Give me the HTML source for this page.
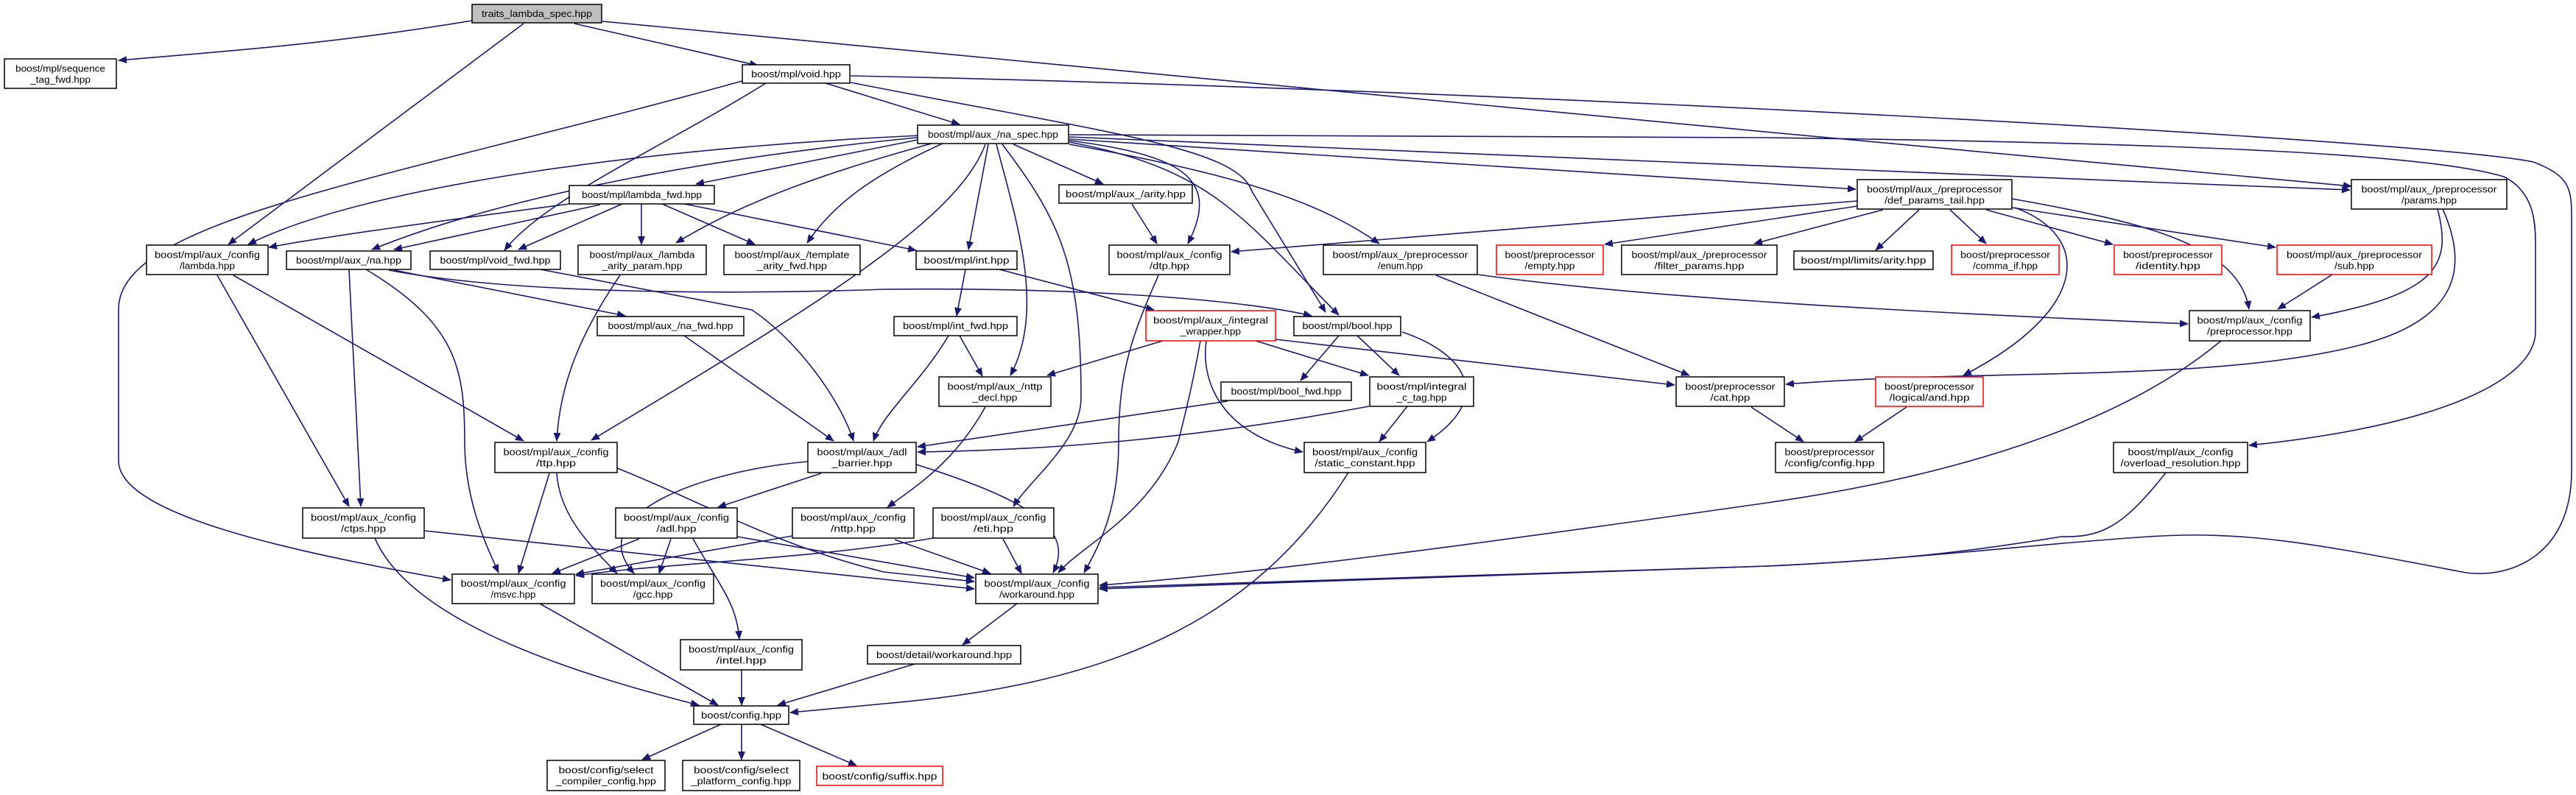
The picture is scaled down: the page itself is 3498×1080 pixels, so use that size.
<!DOCTYPE html>
<html><head><meta charset="utf-8"><style>
html,body{margin:0;padding:0;background:#fff;}
svg{display:block;}
text{font-family:"Liberation Sans",sans-serif;font-size:13px;fill:#000;text-anchor:middle;}
.n{fill:#fff;stroke:#000;stroke-width:1.5;}
.r{fill:#fff;stroke:#ff0000;stroke-width:1.5;}
.e{fill:none;stroke:#191970;stroke-width:1.6;marker-end:url(#a);}
</style></head><body>
<svg width="3498" height="1080" viewBox="0 0 3498 1080" xmlns="http://www.w3.org/2000/svg">
<defs><marker id="a" markerUnits="userSpaceOnUse" markerWidth="12" markerHeight="10" refX="11" refY="5" orient="auto"><path d="M0,0 L12,5 L0,10 z" fill="#191970"/></marker></defs>
<g>
<path class="e" d="M641,28 C450,60 300,70 161,82"/>
<path class="e" d="M711,32 L310,332"/>
<path class="e" d="M780,32 L1029,89"/>
<path class="e" d="M818,29 C1500,95 2400,180 3193,253"/>
<path class="e" d="M1121,113 L1303,169"/>
<path class="e" d="M1040,113 C900,200 740,270 685,340"/>
<path class="e" d="M1008,110 C500,250 161,300 161,420 L161,626 C161,700 400,750 612,788"/>
<path class="e" d="M1155,112 C1500,180 1680,200 1700,260 L1800,424"/>
<path class="e" d="M1155,103 C2000,120 3300,190 3440,220 C3492,240 3492,258 3492,300 L3492,640 C3492,760 3400,790 3338,776 C3150,740 3050,720 2918,729 C2750,740 2600,760 2400,769 L1493,798"/>
<path class="e" d="M1246,190 L945,250"/>
<path class="e" d="M1250,184 C900,200 500,250 337,332"/>
<path class="e" d="M1255,186 C1000,210 700,260 505,339"/>
<path class="e" d="M1265,195 C1100,240 1000,280 918,330"/>
<path class="e" d="M1280,195 C1180,240 1130,280 1096,330"/>
<path class="e" d="M1338,196 C1300,300 1100,420 803,598"/>
<path class="e" d="M1342,196 L1315,339"/>
<path class="e" d="M1353,196 C1380,300 1420,420 1372,510"/>
<path class="e" d="M1361,196 C1440,300 1468,360 1468,540 C1468,600 1400,650 1376,688"/>
<path class="e" d="M1376,196 L1498,250"/>
<path class="e" d="M1452,191 C1600,210 1660,240 1613,331"/>
<path class="e" d="M1452,193 C1650,230 1690,300 1818,428"/>
<path class="e" d="M1452,196 C1700,240 1800,280 1873,331"/>
<path class="e" d="M1452,189 L2520,257"/>
<path class="e" d="M1452,186 C2000,210 2600,235 3191,258"/>
<path class="e" d="M1452,183 L2400,187 C3000,195 3300,210 3400,240 C3440,260 3443,300 3443,330 L3443,450 C3443,520 3300,580 3054,605"/>
<path class="e" d="M773,277 C600,300 450,320 365,336"/>
<path class="e" d="M815,278 L535,339"/>
<path class="e" d="M845,277 L704,339"/>
<path class="e" d="M871,277 L871,332"/>
<path class="e" d="M899,277 L1025,332"/>
<path class="e" d="M929,277 L1244,340"/>
<path class="e" d="M317,374 L711,599"/>
<path class="e" d="M295,374 L474,688"/>
<path class="e" d="M474,367 L490,688"/>
<path class="e" d="M497,366 C620,440 631,500 631,600 C631,680 660,740 677,778"/>
<path class="e" d="M535,367 L849,429"/>
<path class="e" d="M528,367 C700,400 1000,400 1200,393 C1500,390 1700,410 1781,429"/>
<path class="e" d="M734,366 L1021,421 C1080,460 1140,540 1159,599"/>
<path class="e" d="M929,456 L1132,599"/>
<path class="e" d="M842,374 C790,450 760,520 756,599"/>
<path class="e" d="M1311,366 L1299,429"/>
<path class="e" d="M1357,366 L1567,421"/>
<path class="e" d="M1303,456 L1334,511"/>
<path class="e" d="M1288,456 C1250,520 1200,560 1186,599"/>
<path class="e" d="M1537,277 L1571,331"/>
<path class="e" d="M1573,374 C1540,450 1519,500 1519,600 C1519,680 1500,730 1472,778"/>
<path class="e" d="M1950,374 L2294,510"/>
<path class="e" d="M2007,373 C2200,400 2500,420 2971,440"/>
<path class="e" d="M2522,273 L1672,342"/>
<path class="e" d="M2522,280 L2179,332"/>
<path class="e" d="M2557,285 L2382,331"/>
<path class="e" d="M2606,285 L2547,340"/>
<path class="e" d="M2648,285 L2697,331"/>
<path class="e" d="M2697,285 L2869,332"/>
<path class="e" d="M2732,282 L3090,336"/>
<path class="e" d="M2732,270 C2900,300 3040,330 3054,420"/>
<path class="e" d="M2736,282 C2840,320 2840,420 2666,510"/>
<path class="e" d="M3310,284 C3330,360 3310,400 3139,431"/>
<path class="e" d="M3317,284 C3360,380 3320,440 3200,470 C3000,520 2700,500 2425,522"/>
<path class="e" d="M3167,373 L3093,420"/>
<path class="e" d="M3016,463 C2900,560 2700,640 2400,683 C2000,740 1700,780 1493,795"/>
<path class="e" d="M2941,642 C2880,720 2850,730 2799,729 C2700,745 2600,760 2400,769 L1493,800"/>
<path class="e" d="M1579,463 L1422,510"/>
<path class="e" d="M1705,463 L1858,510"/>
<path class="e" d="M1732,461 L2274,523"/>
<path class="e" d="M1638,463 C1630,520 1660,590 1769,614"/>
<path class="e" d="M1630,463 C1620,520 1610,560 1600,600 C1560,700 1470,740 1437,778"/>
<path class="e" d="M1818,456 L1766,517"/>
<path class="e" d="M1843,456 L1900,510"/>
<path class="e" d="M1904,451 C1990,480 2030,540 1938,600"/>
<path class="e" d="M1667,545 L1246,607"/>
<path class="e" d="M1859,552 C1600,600 1400,612 1246,614"/>
<path class="e" d="M1911,552 L1873,600"/>
<path class="e" d="M1338,553 C1300,620 1260,650 1205,689"/>
<path class="e" d="M2378,553 L2449,600"/>
<path class="e" d="M2589,553 L2519,600"/>
<path class="e" d="M1831,642 C1700,850 1500,930 1200,956 L1073,968"/>
<path class="e" d="M1115,643 L975,689"/>
<path class="e" d="M1097,627 C950,640 790,700 861,779"/>
<path class="e" d="M1244,631 C1400,680 1460,720 1430,778"/>
<path class="e" d="M746,643 L704,779"/>
<path class="e" d="M756,643 C760,700 800,740 838,779"/>
<path class="e" d="M838,636 C950,680 1050,740 1200,777 L1323,790"/>
<path class="e" d="M509,731 C560,850 800,920 949,958"/>
<path class="e" d="M576,721 L1323,800"/>
<path class="e" d="M868,732 L750,779"/>
<path class="e" d="M911,732 L895,779"/>
<path class="e" d="M941,732 C980,800 1000,820 1004,868"/>
<path class="e" d="M1001,729 L1323,785"/>
<path class="e" d="M1076,728 L782,780"/>
<path class="e" d="M1215,733 L1345,779"/>
<path class="e" d="M1267,731 C1100,760 900,765 782,782"/>
<path class="e" d="M1362,732 L1387,779"/>
<path class="e" d="M733,820 L975,958"/>
<path class="e" d="M1007,910 L1007,958"/>
<path class="e" d="M1242,902 L1056,958"/>
<path class="e" d="M1381,820 L1307,876"/>
<path class="e" d="M979,984 L872,1032"/>
<path class="e" d="M1007,984 L1007,1032"/>
<path class="e" d="M1033,984 L1163,1040"/>
</g>
<g>
<rect x="641" y="6" width="176" height="25" fill="#bfbfbf" stroke="#000" stroke-width="1.5"/><text x="729" y="23" textLength="150" lengthAdjust="spacingAndGlyphs">traits_lambda_spec.hpp</text>
<rect class="n" x="6" y="80" width="152" height="40"/><text x="82" y="97.5" textLength="122" lengthAdjust="spacingAndGlyphs">boost/mpl/sequence</text><text x="82" y="112.5" textLength="82" lengthAdjust="spacingAndGlyphs">_tag_fwd.hpp</text>
<rect class="n" x="1008" y="88" width="146" height="25"/><text x="1081" y="105" textLength="122" lengthAdjust="spacingAndGlyphs">boost/mpl/void.hpp</text>
<rect class="n" x="1246" y="170" width="205" height="25"/><text x="1348.5" y="187" textLength="177" lengthAdjust="spacingAndGlyphs">boost/mpl/aux_/na_spec.hpp</text>
<rect class="n" x="773" y="252" width="197" height="25"/><text x="871.5" y="269" textLength="163" lengthAdjust="spacingAndGlyphs">boost/mpl/lambda_fwd.hpp</text>
<rect class="n" x="1438" y="251" width="181" height="25"/><text x="1528.5" y="268" textLength="163" lengthAdjust="spacingAndGlyphs">boost/mpl/aux_/arity.hpp</text>
<rect class="n" x="2522" y="244" width="210" height="40"/><text x="2627" y="261.5" textLength="184" lengthAdjust="spacingAndGlyphs">boost/mpl/aux_/preprocessor</text><text x="2627" y="276.5" textLength="136" lengthAdjust="spacingAndGlyphs">/def_params_tail.hpp</text>
<rect class="n" x="3193" y="244" width="211" height="40"/><text x="3298.5" y="261.5" textLength="184" lengthAdjust="spacingAndGlyphs">boost/mpl/aux_/preprocessor</text><text x="3298.5" y="276.5" textLength="75" lengthAdjust="spacingAndGlyphs">/params.hpp</text>
<rect class="n" x="199" y="333" width="165" height="40"/><text x="281.5" y="350.5" textLength="143" lengthAdjust="spacingAndGlyphs">boost/mpl/aux_/config</text><text x="281.5" y="365.5" textLength="75" lengthAdjust="spacingAndGlyphs">/lambda.hpp</text>
<rect class="n" x="389" y="341" width="169" height="25"/><text x="473.5" y="358" textLength="143" lengthAdjust="spacingAndGlyphs">boost/mpl/aux_/na.hpp</text>
<rect class="n" x="584" y="341" width="177" height="25"/><text x="672.5" y="358" textLength="150" lengthAdjust="spacingAndGlyphs">boost/mpl/void_fwd.hpp</text>
<rect class="n" x="785" y="333" width="174" height="40"/><text x="872" y="350.5" textLength="143" lengthAdjust="spacingAndGlyphs">boost/mpl/aux_/lambda</text><text x="872" y="365.5" textLength="109" lengthAdjust="spacingAndGlyphs">_arity_param.hpp</text>
<rect class="n" x="983" y="333" width="185" height="40"/><text x="1075.5" y="350.5" textLength="156" lengthAdjust="spacingAndGlyphs">boost/mpl/aux_/template</text><text x="1075.5" y="365.5" textLength="95" lengthAdjust="spacingAndGlyphs">_arity_fwd.hpp</text>
<rect class="n" x="1244" y="341" width="137" height="25"/><text x="1312.5" y="358" textLength="116" lengthAdjust="spacingAndGlyphs">boost/mpl/int.hpp</text>
<rect class="n" x="1506" y="333" width="164" height="40"/><text x="1588" y="350.5" textLength="143" lengthAdjust="spacingAndGlyphs">boost/mpl/aux_/config</text><text x="1588" y="365.5" textLength="54" lengthAdjust="spacingAndGlyphs">/dtp.hpp</text>
<rect class="n" x="1797" y="333" width="209" height="40"/><text x="1901.5" y="350.5" textLength="184" lengthAdjust="spacingAndGlyphs">boost/mpl/aux_/preprocessor</text><text x="1901.5" y="365.5" textLength="61" lengthAdjust="spacingAndGlyphs">/enum.hpp</text>
<rect class="r" x="2032" y="333" width="145" height="40"/><text x="2104.5" y="350.5" textLength="122" lengthAdjust="spacingAndGlyphs">boost/preprocessor</text><text x="2104.5" y="365.5" textLength="68" lengthAdjust="spacingAndGlyphs">/empty.hpp</text>
<rect class="n" x="2202" y="333" width="211" height="40"/><text x="2307.5" y="350.5" textLength="184" lengthAdjust="spacingAndGlyphs">boost/mpl/aux_/preprocessor</text><text x="2307.5" y="365.5" textLength="122" lengthAdjust="spacingAndGlyphs">/filter_params.hpp</text>
<rect class="n" x="2436" y="341" width="189" height="25"/><text x="2530.5" y="358" textLength="170" lengthAdjust="spacingAndGlyphs">boost/mpl/limits/arity.hpp</text>
<rect class="r" x="2650" y="333" width="146" height="40"/><text x="2723" y="350.5" textLength="122" lengthAdjust="spacingAndGlyphs">boost/preprocessor</text><text x="2723" y="365.5" textLength="88" lengthAdjust="spacingAndGlyphs">/comma_if.hpp</text>
<rect class="r" x="2871" y="333" width="146" height="40"/><text x="2944" y="350.5" textLength="122" lengthAdjust="spacingAndGlyphs">boost/preprocessor</text><text x="2944" y="365.5" textLength="88" lengthAdjust="spacingAndGlyphs">/identity.hpp</text>
<rect class="r" x="3092" y="333" width="210" height="40"/><text x="3197" y="350.5" textLength="184" lengthAdjust="spacingAndGlyphs">boost/mpl/aux_/preprocessor</text><text x="3197" y="365.5" textLength="54" lengthAdjust="spacingAndGlyphs">/sub.hpp</text>
<rect class="n" x="811" y="430" width="199" height="26"/><text x="910.5" y="447" textLength="170" lengthAdjust="spacingAndGlyphs">boost/mpl/aux_/na_fwd.hpp</text>
<rect class="n" x="1214" y="430" width="167" height="26"/><text x="1297.5" y="447" textLength="143" lengthAdjust="spacingAndGlyphs">boost/mpl/int_fwd.hpp</text>
<rect class="r" x="1556" y="422" width="176" height="41"/><text x="1644" y="439.5" textLength="156" lengthAdjust="spacingAndGlyphs">boost/mpl/aux_/integral</text><text x="1644" y="454.5" textLength="82" lengthAdjust="spacingAndGlyphs">_wrapper.hpp</text>
<rect class="n" x="1757" y="430" width="145" height="26"/><text x="1829.5" y="447" textLength="122" lengthAdjust="spacingAndGlyphs">boost/mpl/bool.hpp</text>
<rect class="n" x="2973" y="422" width="164" height="41"/><text x="3055" y="439.5" textLength="143" lengthAdjust="spacingAndGlyphs">boost/mpl/aux_/config</text><text x="3055" y="454.5" textLength="116" lengthAdjust="spacingAndGlyphs">/preprocessor.hpp</text>
<rect class="n" x="1275" y="512" width="152" height="40"/><text x="1351" y="529.5" textLength="129" lengthAdjust="spacingAndGlyphs">boost/mpl/aux_/nttp</text><text x="1351" y="544.5" textLength="61" lengthAdjust="spacingAndGlyphs">_decl.hpp</text>
<rect class="n" x="1658" y="519" width="177" height="25"/><text x="1746.5" y="536" textLength="150" lengthAdjust="spacingAndGlyphs">boost/mpl/bool_fwd.hpp</text>
<rect class="n" x="1860" y="512" width="141" height="40"/><text x="1930.5" y="529.5" textLength="122" lengthAdjust="spacingAndGlyphs">boost/mpl/integral</text><text x="1930.5" y="544.5" textLength="68" lengthAdjust="spacingAndGlyphs">_c_tag.hpp</text>
<rect class="n" x="2276" y="512" width="147" height="40"/><text x="2349.5" y="529.5" textLength="122" lengthAdjust="spacingAndGlyphs">boost/preprocessor</text><text x="2349.5" y="544.5" textLength="54" lengthAdjust="spacingAndGlyphs">/cat.hpp</text>
<rect class="r" x="2547" y="512" width="146" height="40"/><text x="2620" y="529.5" textLength="122" lengthAdjust="spacingAndGlyphs">boost/preprocessor</text><text x="2620" y="544.5" textLength="109" lengthAdjust="spacingAndGlyphs">/logical/and.hpp</text>
<rect class="n" x="672" y="601" width="166" height="41"/><text x="755" y="618.5" textLength="143" lengthAdjust="spacingAndGlyphs">boost/mpl/aux_/config</text><text x="755" y="633.5" textLength="54" lengthAdjust="spacingAndGlyphs">/ttp.hpp</text>
<rect class="n" x="1097" y="601" width="147" height="41"/><text x="1170.5" y="618.5" textLength="122" lengthAdjust="spacingAndGlyphs">boost/mpl/aux_/adl</text><text x="1170.5" y="633.5" textLength="82" lengthAdjust="spacingAndGlyphs">_barrier.hpp</text>
<rect class="n" x="1771" y="601" width="165" height="41"/><text x="1853.5" y="618.5" textLength="143" lengthAdjust="spacingAndGlyphs">boost/mpl/aux_/config</text><text x="1853.5" y="633.5" textLength="136" lengthAdjust="spacingAndGlyphs">/static_constant.hpp</text>
<rect class="n" x="2411" y="601" width="147" height="41"/><text x="2484.5" y="618.5" textLength="122" lengthAdjust="spacingAndGlyphs">boost/preprocessor</text><text x="2484.5" y="633.5" textLength="122" lengthAdjust="spacingAndGlyphs">/config/config.hpp</text>
<rect class="n" x="2870" y="601" width="182" height="41"/><text x="2961" y="618.5" textLength="143" lengthAdjust="spacingAndGlyphs">boost/mpl/aux_/config</text><text x="2961" y="633.5" textLength="163" lengthAdjust="spacingAndGlyphs">/overload_resolution.hpp</text>
<rect class="n" x="411" y="690" width="165" height="41"/><text x="493.5" y="707.5" textLength="143" lengthAdjust="spacingAndGlyphs">boost/mpl/aux_/config</text><text x="493.5" y="722.5" textLength="61" lengthAdjust="spacingAndGlyphs">/ctps.hpp</text>
<rect class="n" x="836" y="690" width="165" height="41"/><text x="918.5" y="707.5" textLength="143" lengthAdjust="spacingAndGlyphs">boost/mpl/aux_/config</text><text x="918.5" y="722.5" textLength="54" lengthAdjust="spacingAndGlyphs">/adl.hpp</text>
<rect class="n" x="1076" y="690" width="165" height="41"/><text x="1158.5" y="707.5" textLength="143" lengthAdjust="spacingAndGlyphs">boost/mpl/aux_/config</text><text x="1158.5" y="722.5" textLength="61" lengthAdjust="spacingAndGlyphs">/nttp.hpp</text>
<rect class="n" x="1267" y="690" width="164" height="41"/><text x="1349" y="707.5" textLength="143" lengthAdjust="spacingAndGlyphs">boost/mpl/aux_/config</text><text x="1349" y="722.5" textLength="54" lengthAdjust="spacingAndGlyphs">/eti.hpp</text>
<rect class="n" x="614" y="780" width="166" height="40"/><text x="697" y="797" textLength="143" lengthAdjust="spacingAndGlyphs">boost/mpl/aux_/config</text><text x="697" y="812" textLength="61" lengthAdjust="spacingAndGlyphs">/msvc.hpp</text>
<rect class="n" x="804" y="780" width="165" height="40"/><text x="886.5" y="797" textLength="143" lengthAdjust="spacingAndGlyphs">boost/mpl/aux_/config</text><text x="886.5" y="812" textLength="54" lengthAdjust="spacingAndGlyphs">/gcc.hpp</text>
<rect class="n" x="1325" y="780" width="166" height="40"/><text x="1408" y="797" textLength="143" lengthAdjust="spacingAndGlyphs">boost/mpl/aux_/config</text><text x="1408" y="812" textLength="102" lengthAdjust="spacingAndGlyphs">/workaround.hpp</text>
<rect class="n" x="924" y="869" width="165" height="41"/><text x="1006.5" y="886.5" textLength="143" lengthAdjust="spacingAndGlyphs">boost/mpl/aux_/config</text><text x="1006.5" y="901.5" textLength="68" lengthAdjust="spacingAndGlyphs">/intel.hpp</text>
<rect class="n" x="1178" y="877" width="208" height="25"/><text x="1282" y="894" textLength="184" lengthAdjust="spacingAndGlyphs">boost/detail/workaround.hpp</text>
<rect class="n" x="942" y="959" width="129" height="25"/><text x="1006.5" y="976" textLength="109" lengthAdjust="spacingAndGlyphs">boost/config.hpp</text>
<rect class="n" x="743" y="1033" width="160" height="41"/><text x="823" y="1050.5" textLength="129" lengthAdjust="spacingAndGlyphs">boost/config/select</text><text x="823" y="1065.5" textLength="136" lengthAdjust="spacingAndGlyphs">_compiler_config.hpp</text>
<rect class="n" x="927" y="1033" width="159" height="41"/><text x="1006.5" y="1050.5" textLength="129" lengthAdjust="spacingAndGlyphs">boost/config/select</text><text x="1006.5" y="1065.5" textLength="136" lengthAdjust="spacingAndGlyphs">_platform_config.hpp</text>
<rect class="r" x="1109" y="1041" width="171" height="26"/><text x="1194.5" y="1059" textLength="156" lengthAdjust="spacingAndGlyphs">boost/config/suffix.hpp</text>
</g>
</svg>
</body></html>
